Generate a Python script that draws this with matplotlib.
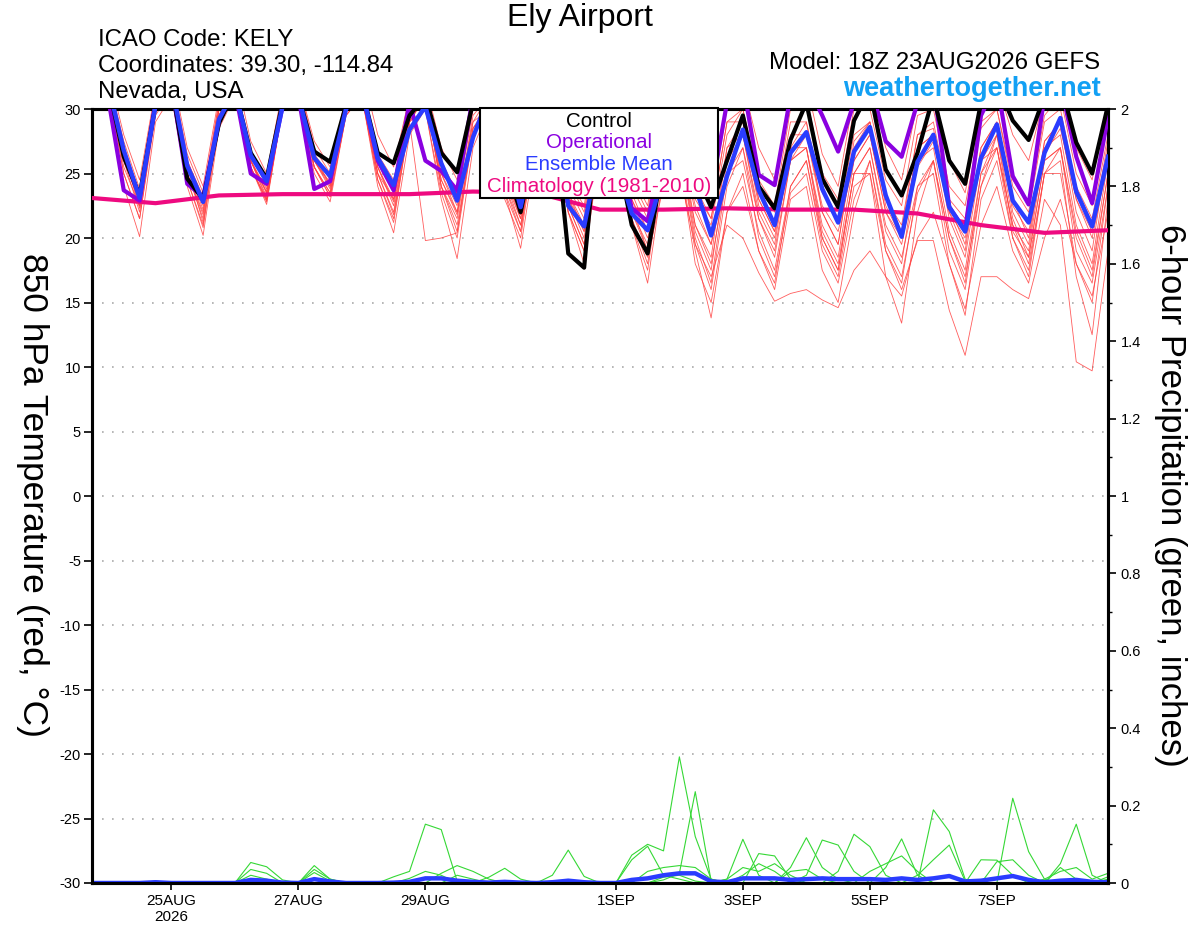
import numpy as np
import pandas as pd
import matplotlib
matplotlib.use("Agg")
import matplotlib.pyplot as plt
from matplotlib.patches import Rectangle
from matplotlib.ticker import MultipleLocator, FormatStrFormatter

plt.rcParams['font.family'] = ['Liberation Sans', 'DejaVu Sans']
plt.rcParams['axes.unicode_minus'] = False

# %%
# 6-hourly GEFS output, 18Z 23AUG2026 to 18Z 8SEP2026
times = pd.date_range("2026-08-23 18:00", periods=65, freq="6h")
tick_dates = ["2026-08-25", "2026-08-27", "2026-08-29", "2026-09-01",
              "2026-09-03", "2026-09-05", "2026-09-07"]
tick_labels = ["25AUG\n2026", "27AUG", "29AUG", "1SEP", "3SEP", "5SEP", "7SEP"]

# 850 hPa temperature (C): first value, then (00Z, 06Z, 12Z, 18Z) for each day
control = [30.3,
           32, 26.3, 23.3, 30.3,  32, 24.6, 23.0, 28.9,  31.5, 26.6, 24.6, 30.5,
           31, 26.7, 25.9, 30.3,  31.5, 26.6, 25.8, 29.5,  31, 26.6, 25.1, 30.5,
           32, 26, 22.0, 28,  31, 18.8, 17.7, 31,  27, 21.0, 18.8, 26,
           30, 25, 22.4, 26.0,  29.5, 24.0, 22.3, 27.6,  30.5, 24.6, 22.4, 29.1,
           31.5, 25.3, 23.3, 26.6,  31, 26.0, 24.2, 30.5,  32, 29.1, 27.6, 31,
           32, 27.4, 25.0, 30.3]
operational = [30.3,
               31, 23.7, 22.9, 30.5,  32, 24.2, 23.2, 29.0,  31.5, 25.0, 24.2, 30.2,
               31, 23.8, 24.4, 30.3,  31.5, 26.0, 23.7, 30.5,  26.0, 25.2, 23.7, 31,
               32, 27, 24, 29,  31, 25, 23.5, 29,  28, 22.3, 21.3, 27,
               30, 26, 23.5, 30.5,  32, 24.9, 24.1, 31,  32, 29.5, 26.7, 30.5,
               32, 27.5, 26.3, 30.5,  32, 22.4, 20.6, 29.5,  32, 24.8, 22.6, 31,
               32, 26.3, 22.7, 29.4]
ens_mean = [30.3,
            32, 26.8, 23.1, 30.3,  32, 25.6, 22.8, 29.2,  31.5, 26.4, 24.4, 30.2,
            31, 26.2, 24.8, 30.0,  31.5, 26.2, 24.1, 28.4,  30.2, 25.8, 22.9, 27.8,
            31, 27, 22.4, 28,  31, 22.5, 20.9, 27,  26, 21.9, 20.6, 25,
            28.5, 24, 20.2, 24.8,  28.4, 23.7, 21.0, 26.6,  28.2, 23.8, 21.2, 26.7,
            28.6, 23.3, 20.1, 25.9,  28.0, 22.4, 20.5, 26.2,  28.8, 22.9, 21.2, 26.6,
            29.3, 23.6, 20.9, 26.3]

# daily climatology (1981-2010), one value per 18Z
climatology = [23.1, 22.7, 23.3, 23.4, 23.4, 23.4, 23.6, 23.5, 22.2,
               22.2, 22.3, 22.2, 22.2, 21.9, 21.0, 20.4, 20.6]

members_t = [
    [30.5, 32, 26, 22.0, 30.5, 32, 25, 21.5, 29.5, 32, 26, 23.5, 30.5, 31, 26, 24.0, 30,
     32, 25.5, 22.5, 29, 31, 24, 21.0, 28, 31, 25, 21.5, 28, 30, 23, 20.5, 29,
     29, 23, 20.0, 25, 28, 22.5, 19.5, 25, 28, 23, 20.5, 26, 28, 22.5, 20.5, 26,
     28, 22, 19.5, 25.5, 27.5, 22, 20, 26, 28, 22.5, 20.5, 26.5, 28.5, 23, 20.0, 26],
    [30, 31, 24, 20.1, 29, 31, 24, 20.2, 28.5, 31, 25.5, 22.6, 30, 31, 25, 22.8, 29.5,
     31, 24, 20.4, 28, 30, 23, 18.4, 27, 30, 23.5, 19.2, 27, 30, 22, 18.0, 27,
     28, 21, 16.5, 25, 26, 19, 13.8, 22, 25, 19, 16.5, 24, 26, 20, 17.5, 25,
     27, 21, 18.5, 24, 26, 20, 17.0, 24, 27, 21, 18.0, 25, 27, 20.5, 17.5, 25],
    [31, 33, 28, 24.5, 31.5, 33, 27, 24.0, 31, 33, 27.5, 25.0, 31.5, 32, 27.5, 25.5, 31,
     33, 28, 25.5, 31, 32, 27, 24.5, 31, 32, 27, 24.0, 31, 32, 26, 23.5, 31,
     32, 26, 23.5, 30.5, 31, 25.5, 23.0, 30, 32, 27, 24.5, 31, 32, 26.5, 24.0, 31,
     32, 27, 24.5, 30.5, 31, 26, 23.5, 30, 32, 28, 26.0, 31, 32, 27, 24.5, 30.5],
    [30.5, 32, 26.5, 23.0, 30, 32, 25.5, 22.5, 30, 32, 26, 23.8, 30, 31, 26.5, 24.5, 30.5,
     31, 25, 23.0, 29, 31, 24.5, 22.0, 28.5, 30, 24, 21.0, 28, 29, 22.5, 19.5, 26,
     27, 21.5, 18.5, 24, 25, 19.5, 17.0, 21, 20, 17.3, 15.1, 15.7, 16, 15.2, 14.6, 17.5,
     19, 17, 15.5, 20, 22, 18, 14.5, 21, 24, 19, 16.5, 23, 21, 10.4, 9.7, 19],
    [30, 32, 25.5, 22.5, 30, 32, 25, 22.0, 29.5, 32, 26, 23.2, 30.5, 31, 25.5, 23.5, 30,
     31, 25, 22.0, 29.5, 31, 24, 21.5, 28.5, 30, 24.5, 21.5, 29, 30, 23.5, 20.5, 28,
     29, 22, 19.0, 27, 27, 20, 16.5, 25, 26, 20.5, 17.5, 24, 26, 19.5, 17.0, 24,
     25, 19, 16.0, 19.8, 19.8, 14.4, 10.9, 17, 17, 16, 15.3, 20, 23, 18, 15.0, 24],
    [30.5, 32, 27, 23.5, 30.5, 32, 26, 23.0, 30, 32, 26.5, 24.0, 30.5, 31, 26, 24.2, 30,
     32, 26, 23.5, 29.5, 31, 25, 22.5, 29, 31, 24.5, 22.0, 29, 30, 23, 21.0, 28,
     30, 23.5, 20.5, 28, 28, 21, 18.0, 25, 27, 21.5, 19.0, 26, 27, 20, 17.5, 25,
     25, 17, 13.4, 22, 26, 20, 16.5, 25, 27, 20, 17.0, 25, 26, 17, 12.5, 23],
    [30, 32, 25, 21.5, 30, 31, 24.5, 21.0, 29, 32, 25.5, 22.8, 30, 31, 25.5, 23.2, 29.5,
     31, 24.5, 21.5, 29, 19.8, 20.0, 20.4, 28, 30, 23, 20.0, 28, 29, 22, 19.0, 27,
     28, 21.5, 18.0, 26, 26, 18, 15.0, 22, 24, 19, 16.0, 23, 24, 17.5, 15.0, 22,
     26, 19, 16.5, 24, 25, 18, 14.0, 23, 26, 20, 17.5, 25, 25, 18, 15.5, 22],
    [30.3, 32, 27, 23.5, 31, 32, 26, 23.2, 30.5, 32, 26.5, 24.2, 31, 32, 26.5, 24.8, 30.5,
     32, 26.5, 24.5, 30, 31, 26, 23.5, 30, 31, 25, 22.5, 29, 31, 24, 21.5, 30,
     30, 24, 21.5, 29, 29, 23, 21.0, 28, 30, 24, 22.0, 29, 29, 23.5, 21.5, 28,
     29, 23, 21.0, 28, 29, 23, 21.5, 28.5, 30, 24, 22.0, 29, 30, 24, 21.5, 28],
    [30.2, 32, 26, 22.8, 30, 32, 25.5, 22.2, 30, 32, 26, 23.5, 30, 31, 26, 23.8, 30,
     32, 25.5, 23.0, 30, 31, 24.5, 21.8, 29, 30, 24, 20.5, 29, 30, 22.5, 19.5, 27,
     28, 22, 19.5, 27, 27, 21, 18.5, 27, 28, 22, 19.5, 27, 27, 21, 18.5, 26,
     28, 22, 20.0, 27, 28, 21.5, 18.5, 26, 27, 21, 19.0, 27, 28, 21, 18.0, 26],
    [30.5, 32, 26.5, 22.3, 30.5, 32, 25, 21.8, 30, 32, 26, 23.0, 30.5, 31, 25.5, 23.5, 30.5,
     32, 26, 23.8, 30.5, 32, 25.5, 22.8, 30, 31, 25, 22.0, 30, 31, 24.5, 22.5, 30,
     30, 24.5, 22.0, 29.5, 30, 23.5, 21.5, 29, 30, 24.5, 22.5, 30, 31, 25, 23.0, 30,
     30, 24.5, 22.5, 29.5, 30, 24, 22.5, 29, 30, 24.5, 22.5, 29.5, 31, 25, 22.5, 29],
    [30, 31.5, 25, 21.5, 29.5, 31.5, 24.5, 20.8, 29, 31.5, 25.5, 23.0, 30, 31, 25.5, 23.2, 29.5,
     31, 24.5, 21.2, 29, 30, 23.5, 20.0, 28, 30, 23.5, 20.5, 28, 29, 22, 19.0, 27.5,
     29, 21, 17.5, 26, 27, 19.5, 16.0, 24, 27, 20, 17.0, 23.5, 25, 19, 16.5, 23,
     26, 19.5, 17.0, 23.5, 26, 19, 16.0, 24, 28, 20.5, 18.5, 26, 27, 19, 16.5, 24],
    [30.5, 32, 26, 23.0, 30.5, 32, 25.5, 22.8, 30, 32, 26, 23.6, 30.5, 31.5, 26, 24.3, 30,
     32, 25.5, 22.8, 29.5, 31, 25, 22.0, 29.5, 31, 25, 21.8, 29, 30, 23.5, 21.0, 29,
     30, 23, 20.5, 28, 28, 22, 19.5, 27, 29, 23, 20.5, 28, 28, 22, 19.5, 27,
     29, 22.5, 20.0, 27, 28, 22, 19.0, 27, 29, 23, 20.0, 27.5, 29, 22, 19.0, 27],
    [30.3, 32, 26.5, 22.5, 30, 32, 25.5, 21.2, 29.5, 32, 25.5, 22.9, 30, 31.5, 26.5, 24.0, 30,
     31.5, 25, 21.8, 29, 31, 24, 20.5, 28.5, 30.5, 24.5, 21.0, 28, 30, 23, 20.0, 28.5,
     29, 22.5, 19.0, 26.5, 27, 20.5, 17.5, 26, 28, 21.5, 18.5, 26, 27, 20.5, 18.0, 25,
     27, 20.5, 18.0, 26, 27, 20.5, 17.5, 25, 28, 21.5, 18.5, 26, 27, 20, 17.0, 25],
    [30.6, 32.5, 27.5, 23.8, 31, 32.5, 26.5, 23.5, 30.5, 32, 26.5, 24.5, 31, 32, 27, 25.0, 31,
     32, 26, 24.0, 30.5, 32, 26, 23.0, 30.5, 31, 25.5, 22.8, 30, 31, 24.5, 22.0, 30,
     31, 25, 22.5, 30, 30, 24, 21.5, 29, 29, 22.5, 20.0, 27, 29, 22, 19.5, 27.5,
     29, 23, 20.5, 28, 28.5, 22.5, 19.5, 27, 29, 22, 19.5, 27.5, 29, 23, 20.5, 27.5],
]

# 6-hour precipitation (inches), rows of 13 values
members_p = [
    [0, 0, 0, 0, 0.005, 0, 0, 0, 0, 0, 0.053, 0.042, 0.008,
     0, 0, 0, 0, 0, 0, 0, 0, 0, 0, 0, 0, 0,
     0, 0, 0, 0, 0, 0, 0, 0, 0.072, 0.1, 0.083, 0.326, 0.12,
     0.01, 0, 0, 0, 0, 0, 0, 0, 0, 0, 0, 0, 0,
     0, 0.189, 0.133, 0.01, 0, 0, 0, 0, 0, 0, 0, 0, 0],
    [0, 0, 0, 0, 0, 0, 0, 0, 0, 0, 0, 0, 0,
     0, 0, 0, 0, 0, 0, 0.016, 0.03, 0.152, 0.138, 0.005, 0, 0,
     0, 0, 0, 0, 0, 0, 0, 0, 0, 0, 0.008, 0.025, 0.236,
     0.005, 0, 0, 0, 0, 0, 0, 0, 0, 0, 0, 0, 0,
     0, 0, 0, 0, 0, 0, 0.219, 0.081, 0.01, 0, 0, 0, 0],
    [0, 0, 0, 0, 0, 0, 0, 0, 0, 0, 0, 0, 0,
     0, 0.045, 0.01, 0, 0, 0, 0, 0, 0, 0, 0, 0, 0,
     0, 0, 0, 0.02, 0.085, 0.017, 0, 0, 0, 0, 0, 0, 0,
     0, 0.01, 0.113, 0.02, 0, 0, 0, 0, 0, 0, 0, 0, 0,
     0, 0, 0, 0, 0, 0, 0, 0, 0, 0.05, 0.152, 0.02, 0],
    [0, 0, 0, 0, 0, 0, 0, 0, 0, 0, 0.035, 0.025, 0,
     0, 0, 0, 0, 0, 0, 0, 0, 0, 0, 0, 0, 0,
     0, 0, 0, 0, 0, 0, 0, 0, 0.06, 0.095, 0.02, 0.01, 0,
     0, 0, 0, 0, 0, 0.04, 0.117, 0.04, 0.01, 0, 0, 0, 0,
     0, 0, 0, 0, 0, 0, 0, 0, 0, 0, 0, 0, 0],
    [0, 0, 0, 0, 0, 0, 0, 0, 0, 0, 0, 0, 0,
     0, 0.035, 0.01, 0, 0, 0, 0, 0, 0, 0.025, 0.045, 0.03, 0.01,
     0, 0, 0, 0, 0, 0, 0, 0, 0, 0, 0, 0, 0,
     0, 0, 0, 0, 0, 0, 0.02, 0.111, 0.098, 0.03, 0, 0, 0,
     0, 0, 0, 0, 0, 0, 0, 0, 0, 0, 0, 0, 0],
    [0, 0, 0, 0, 0, 0, 0, 0, 0, 0, 0.02, 0.01, 0,
     0, 0, 0, 0, 0, 0, 0, 0, 0, 0, 0, 0, 0.015,
     0.038, 0.01, 0, 0, 0, 0, 0, 0, 0, 0, 0, 0, 0,
     0, 0, 0, 0.076, 0.07, 0.01, 0, 0, 0.03, 0.126, 0.094, 0.02, 0,
     0, 0, 0, 0, 0, 0, 0, 0, 0, 0, 0, 0, 0],
    [0, 0, 0, 0, 0, 0, 0, 0, 0, 0, 0, 0, 0,
     0, 0.027, 0.005, 0, 0, 0, 0, 0, 0, 0, 0, 0, 0,
     0, 0, 0, 0, 0, 0, 0, 0, 0, 0, 0, 0, 0,
     0, 0, 0, 0, 0, 0, 0, 0, 0, 0, 0, 0.04, 0.114,
     0.02, 0, 0, 0, 0.06, 0.059, 0.02, 0, 0, 0, 0, 0, 0],
    [0, 0, 0, 0, 0, 0, 0, 0, 0, 0, 0, 0, 0,
     0, 0, 0, 0, 0, 0, 0, 0.012, 0.03, 0.02, 0, 0, 0,
     0, 0, 0, 0, 0, 0, 0, 0, 0, 0, 0, 0, 0,
     0, 0, 0.02, 0.05, 0.03, 0, 0, 0, 0, 0, 0, 0, 0,
     0.02, 0.06, 0.098, 0.005, 0, 0, 0, 0, 0, 0.04, 0.01, 0, 0.016],
    [0, 0, 0, 0, 0, 0, 0, 0, 0, 0, 0, 0, 0,
     0, 0, 0, 0, 0, 0, 0, 0, 0, 0, 0.02, 0.01, 0,
     0, 0, 0, 0.005, 0, 0, 0, 0, 0, 0.03, 0.04, 0.045, 0.04,
     0.01, 0, 0, 0, 0, 0.03, 0.035, 0.01, 0, 0, 0, 0, 0,
     0, 0, 0, 0, 0, 0.055, 0.06, 0.02, 0, 0, 0, 0, 0.01],
    [0, 0, 0, 0, 0, 0, 0, 0, 0, 0, 0, 0, 0,
     0, 0, 0, 0, 0, 0, 0, 0, 0, 0, 0, 0, 0,
     0, 0, 0, 0, 0, 0, 0, 0, 0, 0, 0.015, 0.02, 0.005,
     0, 0.01, 0.04, 0.03, 0.05, 0.02, 0, 0, 0, 0, 0.03, 0.05, 0.07,
     0.03, 0, 0, 0, 0, 0, 0, 0, 0.01, 0.03, 0.04, 0.01, 0.025],
]
precip_mean = [0, 0, 0, 0, 0.002, 0, 0, 0, 0, 0, 0.008, 0.006, 0.001,
               0, 0.01, 0.004, 0, 0, 0, 0.001, 0.003, 0.012, 0.012, 0.006, 0.003, 0.001,
               0.003, 0.001, 0, 0.002, 0.006, 0.002, 0, 0, 0.008, 0.012, 0.02, 0.025, 0.025,
               0.004, 0.002, 0.012, 0.012, 0.012, 0.008, 0.01, 0.012, 0.01, 0.01, 0.01, 0.008, 0.012,
               0.008, 0.012, 0.018, 0.004, 0.006, 0.012, 0.018, 0.008, 0.002, 0.006, 0.008, 0.003, 0.002]

legend_names = ["Control", "Operational", "Ensemble Mean", "Climatology (1981-2010)"]
legend_colors = ["black", "#8a00e0", "#2a3cff", "#ee0a80"]

# %%
fig = plt.figure(figsize=(12, 9.27), dpi=100)
ax = fig.add_axes([92/1200, 1-883/927, 1016/1200, 774/927])
ax2 = ax.twinx()

for m in members_p:
    ax2.plot(times, m, color="#35d835", lw=0.8, zorder=1)
ax2.plot(times, precip_mean, color="#2a3cff", lw=3.2, zorder=2)
ax2.set_ylim(0, 2)

for m in members_t:
    ax.plot(times, m, color="#ff4040", lw=0.6, alpha=0.85, zorder=2)
ax.plot(times[::4], climatology, color=legend_colors[3], lw=3, zorder=3)
ax.plot(times, operational, color=legend_colors[1], lw=3, zorder=4)
ax.plot(times, control, color=legend_colors[0], lw=3, zorder=5)
ax.plot(times, ens_mean, color=legend_colors[2], lw=3.2, zorder=6)

ax.set_zorder(ax2.get_zorder() + 1)
ax.patch.set_visible(False)

ax.set_xlim(times[0], times[-1])
ax.set_ylim(-30, 30)
ax.yaxis.set_major_locator(MultipleLocator(5))
ax.grid(axis="y", color="#aaaaaa", linestyle=(0, (1, 5)), lw=1.2)
ax.set_xticks(pd.to_datetime(tick_dates))
ax.set_xticklabels(tick_labels)
ax.tick_params(axis="x", length=5, width=1.2, labelsize=11, pad=3)
ax.tick_params(axis="y", length=6, width=1.2, labelsize=10.5, pad=2)

ax2.yaxis.set_major_locator(MultipleLocator(0.2))
ax2.yaxis.set_minor_locator(MultipleLocator(0.1))
ax2.yaxis.set_major_formatter(FormatStrFormatter("%g"))
ax2.tick_params(axis="y", which="major", length=6, width=1.2, labelsize=10.5, pad=3)
ax2.tick_params(axis="y", which="minor", length=3, width=1)

for a in (ax, ax2):
    for s in a.spines.values():
        s.set_linewidth(2.2)

# legend box
ax.add_patch(Rectangle(((480-92)/1016, (883-198)/774), 238/1016, 90/774,
                       transform=ax.transAxes, facecolor="white", edgecolor="black",
                       lw=1.5, zorder=10, clip_on=False))
for name, col, yy in zip(legend_names, legend_colors, [121, 142, 164, 186]):
    ax.text((599-92)/1016, (883-yy)/774, name, color=col, fontsize=14.8,
            ha="center", va="center", transform=ax.transAxes, zorder=11)

# header and axis titles
fig.text(580/1200, 1-18/927, "Ely Airport", fontsize=23, ha="center", va="center")
for txt, yy in zip(["ICAO Code: KELY", "Coordinates: 39.30, -114.84", "Nevada, USA"], [40, 66, 92]):
    fig.text(98/1200, 1-yy/927, txt, fontsize=17.3, ha="left", va="center")
fig.text(1100/1200, 1-63/927, "Model: 18Z 23AUG2026 GEFS", fontsize=17.3, ha="right", va="center")
fig.text(1101/1200, 1-89/927, "weathertogether.net", fontsize=19.5, fontweight="bold",
         color="#12a0f4", ha="right", va="center")
fig.text(32/1200, 1-495/927, "850 hPa Temperature (red, °C)", fontsize=25.5,
         rotation=270, ha="center", va="center")
fig.text(1170/1200, 1-495/927, "6-hour Precipitation (green, inches)", fontsize=25,
         rotation=270, ha="center", va="center")

fig.savefig("out.png", dpi=100)
